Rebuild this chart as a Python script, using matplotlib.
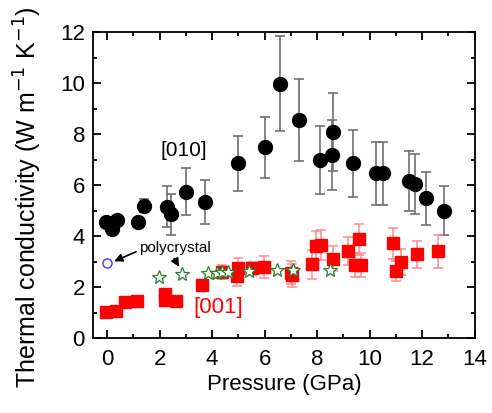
import numpy as np
import matplotlib.pyplot as plt

plt.rcParams['font.family'] = ['Liberation Sans', 'DejaVu Sans']

# [010] data
p010 = [-0.05, 0.17, 0.38, 1.18, 1.4, 2.29, 2.43, 3.0, 3.72, 4.99, 6.03, 6.6,
        7.3, 8.1, 8.55, 8.59, 9.35, 10.24, 10.51, 11.5, 11.72, 12.13, 12.83]
k010 = [4.55, 4.26, 4.63, 4.56, 5.19, 5.15, 4.86, 5.74, 5.35, 6.85, 7.48, 9.99,
        8.55, 6.98, 7.18, 8.09, 6.85, 6.46, 6.46, 6.17, 6.03, 5.48, 4.99]
e010 = [0.0, 0.0, 0.0, 0.0, 0.25, 0.8, 0.8, 0.93, 0.86, 1.09, 1.18, 1.88,
        1.62, 1.33, 1.37, 1.53, 1.3, 1.24, 1.24, 1.18, 1.18, 1.04, 0.96]

# [001] data
p001 = [-0.05, 0.33, 0.67, 1.12, 2.2, 2.2, 2.64, 3.6, 4.36, 4.99, 4.95, 5.5,
        5.98, 7.02, 7.06, 7.79, 7.95, 8.13, 8.59, 9.18, 9.59, 9.44, 9.69,
        10.9, 11.19, 11.0, 11.79, 12.59]
k001 = [1.03, 1.07, 1.4, 1.45, 1.72, 1.5, 1.45, 2.1, 2.6, 2.73, 2.44, 2.73,
        2.78, 2.56, 2.47, 2.9, 3.62, 3.65, 3.12, 3.41, 3.87, 2.86, 2.86,
        3.71, 2.99, 2.63, 3.28, 3.41]
e001 = [0.05, 0.05, 0.05, 0.05, 0.05, 0.05, 0.05, 0.1, 0.28, 0.4, 0.4, 0.27,
        0.42, 0.45, 0.45, 0.57, 0.57, 0.6, 0.5, 0.55, 0.62, 0.46, 0.46,
        0.59, 0.5, 0.41, 0.53, 0.65]

# polycrystal data
p_poly = [1.98, 2.86, 3.85, 4.17, 4.36, 4.61, 5.4, 6.48, 7.09, 8.48]
k_poly = [2.4, 2.5, 2.57, 2.57, 2.6, 2.6, 2.64, 2.67, 2.67, 2.67]
p_poly0 = [-0.02]
k_poly0 = [2.93]

fig = plt.figure(figsize=(4.92, 4.13), dpi=100)
ax = fig.add_axes([0.1896, 0.1816, 0.775, 0.7402])

ax.errorbar(p010, k010, yerr=e010, fmt='o', color='black', ms=10,
            ecolor='#707070', elinewidth=1.2, capsize=3.5, capthick=1.2, zorder=3)
ax.errorbar(p001, k001, yerr=e001, fmt='s', color='#ff0000', ms=8,
            ecolor='#ff8a8a', elinewidth=1.1, capsize=3.5, capthick=1.1, zorder=3)
ax.plot(p_poly, k_poly, '*', ms=10, mfc='white', mec='#2e7d2e', mew=0.9, zorder=4)
ax.plot(p_poly0, k_poly0, 'o', ms=6.5, mfc='white', mec='#3a3aff', mew=1.0, zorder=4)

ax.text(2.92, 7.37, '[010]', fontsize=15, ha='center', va='center')
ax.text(4.24, 1.18, '[001]', fontsize=16, color='#ff0000', ha='center', va='center')
ax.text(2.58, 3.53, 'polycrystal', fontsize=11, ha='center', va='center')
ax.annotate('', xy=(0.17, 2.97), xytext=(1.2, 3.43),
            arrowprops=dict(arrowstyle='-|>', color='black', lw=1.2, mutation_scale=12))
ax.annotate('', xy=(2.79, 2.7), xytext=(2.5, 3.22),
            arrowprops=dict(arrowstyle='-|>', color='black', lw=1.2, mutation_scale=12))

ax.set_xlim(-0.53, 14)
ax.set_ylim(0, 12)
ax.set_xticks(np.arange(0, 15, 2))
ax.set_xticks(np.arange(0, 15, 1), minor=True)
ax.set_yticks(np.arange(0, 13, 2))
ax.set_yticks(np.arange(0, 13, 1), minor=True)
ax.tick_params(which='both', direction='in', top=True, right=True, width=1.3)
ax.tick_params(which='major', length=6, labelsize=16)
ax.tick_params(axis='x', which='major', pad=8)
ax.tick_params(axis='y', which='major', pad=6)
ax.tick_params(which='minor', length=3)
for s in ax.spines.values():
    s.set_linewidth(1.3)

ax.set_xlabel('Pressure (GPa)', fontsize=16, labelpad=3)
ax.set_ylabel('Thermal conductivity (W m$^{-1}$ K$^{-1}$)', fontsize=18,
              va='center')
ax.yaxis.set_label_coords(-0.172, 0.46)

fig.savefig('out.png', dpi=100)
